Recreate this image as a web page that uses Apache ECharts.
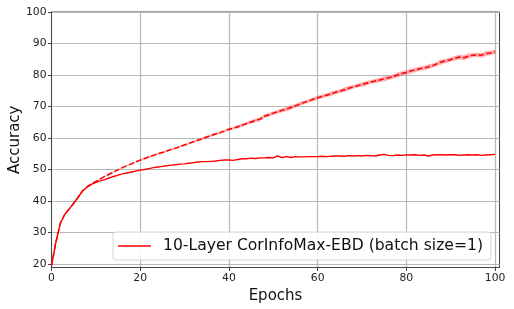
<!DOCTYPE html>
<html><head><meta charset="utf-8">
<script src="https://cdn.jsdelivr.net/npm/echarts@6/dist/echarts.min.js"></script>
<style>html,body{margin:0;padding:0;background:#fff}#c{width:514px;height:309px}</style>
</head><body><div id="c"></div>
<script>
const epochs = Array.from({length: 101}, (_, i) => i);
const yTicks = [20, 30, 40, 50, 60, 70, 80, 90, 100];
const xTicks = [0, 20, 40, 60, 80, 100];
const seriesName = '10-Layer CorInfoMax-EBD (batch size=1)';
const solidAcc = [19.5,27,33,35.8,37.5,39.3,41.2,43.2,44.4,45.3,45.9,46.4,46.8,47.3,47.8,48.2,48.6,48.9,49.2,49.5,
49.8,50,50.3,50.6,50.8,51,51.2,51.4,51.5,51.7,51.8,52,52.2,52.4,52.5,52.5,52.6,52.7,52.9,53,
53,52.9,53.2,53.4,53.4,53.6,53.5,53.7,53.7,53.8,53.7,54.3,53.8,54.1,53.8,54.1,54,54,54.1,54.1,
54.1,54.2,54.1,54.2,54.3,54.3,54.2,54.4,54.3,54.4,54.3,54.5,54.4,54.3,54.6,54.8,54.5,54.4,54.6,54.5,
54.6,54.6,54.7,54.5,54.6,54.3,54.6,54.7,54.7,54.6,54.7,54.7,54.5,54.6,54.7,54.6,54.7,54.5,54.6,54.7,54.8];
const dashedAcc = [19.5,27,33,35.8,37.5,39.3,41.2,43.2,44.5,45.5,46.2,47,47.8,48.5,49.2,49.9,50.6,51.2,51.8,52.4,
53,53.5,54,54.5,55,55.4,55.9,56.4,56.8,57.3,57.8,58.3,58.8,59.3,59.8,60.3,60.8,61.3,61.7,62.2,
62.8,63.1,63.6,64.1,64.6,65.1,65.6,66,66.9,67.4,67.9,68.3,68.8,69.2,69.7,70.2,70.8,71.3,71.8,72.3,
72.8,73.2,73.6,74,74.5,74.9,75.3,75.8,76.2,76.6,77,77.4,77.8,78.1,78.4,78.8,79.1,79.5,80,80.5,
80.8,81.3,81.6,82,82.2,82.6,83,83.6,84.2,84.5,84.9,85.3,85.7,85.5,86,86.3,86.4,86.3,86.8,87,87.4];
const dashedSpread = [0,0,0,0,0,0,0,0.1,0.1,0.1,0.2,0.2,0.2,0.2,0.2,0.2,0.2,0.2,0.2,0.2,
0.3,0.3,0.3,0.3,0.3,0.3,0.3,0.3,0.3,0.3,0.3,0.3,0.3,0.3,0.4,0.4,0.4,0.4,0.4,0.4,
0.4,0.4,0.5,0.5,0.5,0.6,0.6,0.7,0.6,0.6,0.6,0.5,0.6,0.7,0.7,0.6,0.6,0.6,0.5,0.6,
0.6,0.6,0.6,0.7,0.7,0.6,0.7,0.7,0.6,0.6,0.7,0.7,0.6,0.7,0.7,0.8,0.7,0.7,0.8,0.7,
0.7,0.8,0.7,0.7,0.7,0.8,0.7,0.7,0.8,0.7,0.7,0.7,0.8,0.8,0.8,0.7,0.7,0.8,0.8,0.7,0.7];

const F = 'DejaVu Sans';
const bandData = dashedAcc.map((v, i) => [epochs[i], v - dashedSpread[i], v + dashedSpread[i]]);

const chart = echarts.init(document.getElementById('c'), null, {renderer: 'canvas'});
chart.setOption({
  animation: false,
  grid: {left: 51.5, right: 14.5, top: 12, bottom: 41.5, show: true, borderColor: '#444', borderWidth: 1,
         containLabel: false, outerBoundsMode: 'none'},
  legend: {
    data: [{name: seriesName, icon: 'rect'}],
    left: 113, top: 232, orient: 'horizontal',
    itemWidth: 33, itemHeight: 1.6,
    padding: [6, 8, 6, 5],
    backgroundColor: 'rgba(255,255,255,0.85)', borderColor: '#d6d6d6', borderWidth: 1, borderRadius: 3,
    textStyle: {fontFamily: F, fontSize: 15.6, color: '#111', padding: [0, 0, 0, 7]}
  },
  xAxis: {
    type: 'value', min: 0, max: 101,
    name: 'Epochs', nameLocation: 'middle', nameGap: 20,
    nameTextStyle: {fontFamily: F, fontSize: 15, color: '#111'},
    axisLine: {show: true, lineStyle: {color: '#444', width: 1}},
    axisTick: {show: true, length: 3.5, inside: false, customValues: xTicks, lineStyle: {color: '#444'}},
    axisLabel: {customValues: xTicks, fontFamily: F, fontSize: 10.8, color: '#222', margin: 5},
    splitLine: {show: true, lineStyle: {color: '#b8b8b8', width: 1.2}}
  },
  yAxis: {
    type: 'value', min: 18.9, max: 100,
    name: 'Accuracy', nameLocation: 'middle', nameGap: 29, nameRotate: 90, nameMoveOverlap: false,
    nameTextStyle: {fontFamily: F, fontSize: 15, color: '#111'},
    axisLine: {show: true, lineStyle: {color: '#444', width: 1}},
    axisTick: {show: true, length: 3.5, customValues: yTicks, lineStyle: {color: '#444'}},
    axisLabel: {customValues: yTicks, fontFamily: F, fontSize: 10.8, color: '#222', margin: 5},
    splitLine: {show: true, lineStyle: {color: '#b8b8b8', width: 1.2}}
  },
  series: [
    {type: 'custom', name: 'band', silent: true, data: bandData,
     encode: {x: 0, y: [1, 2]},
     renderItem: function (params, api) {
       if (params.dataIndex !== 0) return null;
       const pts = [];
       for (let i = 0; i < bandData.length; i++) pts.push(api.coord([bandData[i][0], bandData[i][2]]));
       for (let i = bandData.length - 1; i >= 0; i--) pts.push(api.coord([bandData[i][0], bandData[i][1]]));
       return {type: 'polygon', shape: {points: pts}, style: {fill: 'rgba(255,70,70,0.42)', stroke: null}};
     }},
    {type: 'line', name: 'dashed', data: dashedAcc.map((v, i) => [epochs[i], v]), symbol: 'none',
     lineStyle: {color: '#ff0000', width: 1.5, type: [5.5, 2.5]}},
    {type: 'line', name: seriesName, data: solidAcc.map((v, i) => [epochs[i], v]), symbol: 'none',
     lineStyle: {color: '#ff0000', width: 1.4}, itemStyle: {color: '#ff0000'}}
  ]
});
</script></body></html>
